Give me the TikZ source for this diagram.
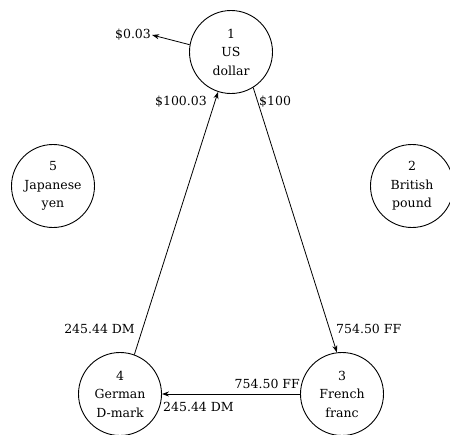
\documentclass[tikz,border=0pt]{standalone}
\usepackage{fontspec}
\setmainfont{DejaVu Serif}
\usetikzlibrary{arrows.meta}

\begin{document}
\begin{tikzpicture}[
    x=1pt, y=-1pt,
    currency/.style={circle, draw=black, fill=white, line width=0.9pt, minimum size=83pt,
        inner sep=0pt, align=center, font=\fontsize{12.5}{18.5}\selectfont},
    amount/.style={font=\fontsize{12.5}{14}\selectfont, inner sep=1pt},
    flow/.style={-{Stealth[length=7pt, width=5pt]}, line width=0.8pt}
]
    \useasboundingbox (0,0) rectangle (450,434);

    % Currencies
    \node[currency] (one) at (231,52) {1\\US\\dollar};
    \node[currency] (two) at (412,186) {2\\British\\pound};
    \node[currency] (three) at (342,394) {3\\French\\franc};
    \node[currency] (four) at (120,394) {4\\German\\D-mark};
    \node[currency] (five) at (53,186) {5\\Japanese\\yen};

    % Amounts
    \node[amount] (loss) at (133,35) {\$0.03};
    \node[amount, anchor=east] (back) at (208,102) {\$100.03};
    \node[amount, anchor=west] (start) at (258,102) {\$100};
    \node[amount, anchor=east] (dmin) at (136,329) {245.44 DM};
    \node[amount, anchor=west] (ffin) at (335,329) {754.50 FF};
    \node[amount, anchor=east] (ffout) at (301,384) {754.50 FF};
    \node[amount, anchor=west] (dmout) at (162,407) {245.44 DM};

    % Exchanges
    \draw[flow] (one.-58) -- (three.97);
    \draw[flow] (three.west) -- (four.east);
    \draw[flow] (four.70) -- (one.-108);
    \draw[flow] (one.170) -- (loss.east);
\end{tikzpicture}
\end{document}
